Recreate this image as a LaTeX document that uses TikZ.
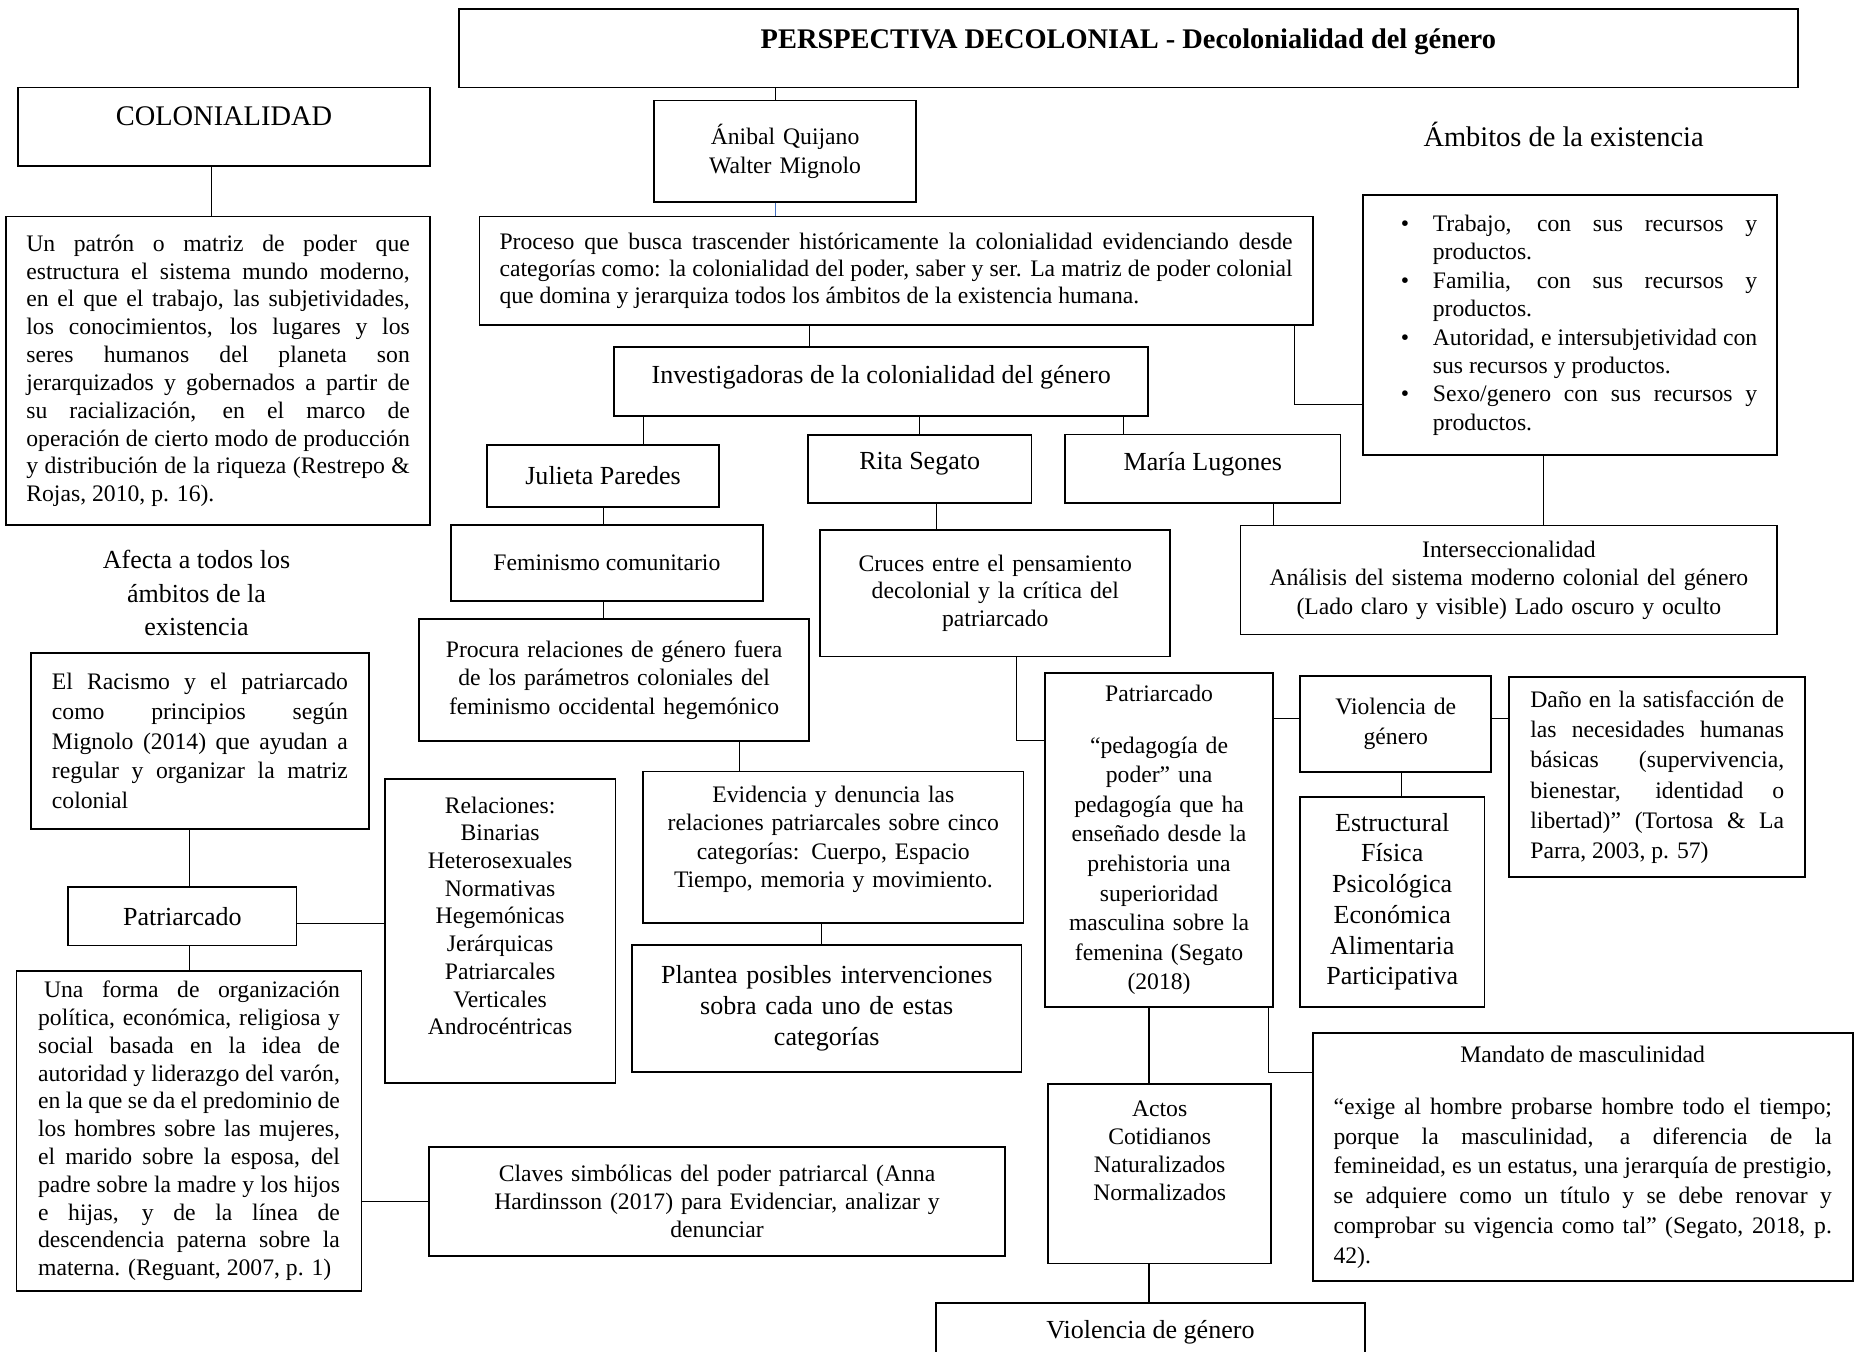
\documentclass[tikz,border=0pt]{standalone}
\usepackage{fontspec}
\setmainfont{Liberation Serif}
\usepackage{tikz}
\usetikzlibrary{positioning,calc}
\definecolor{linkblue}{RGB}{68,114,196}
\newcommand{\ambitem}{\leavevmode\llap{\textbullet\hspace{20pt}}}

\begin{document}
\begin{tikzpicture}[x=1pt,y=-1pt,
    box/.style={draw, line width=1.5pt, inner sep=3pt, align=center, font=\fontsize{20}{23.5}\selectfont},
    jbox/.style={box, align=justify},
    bigtxt/.style={font=\fontsize{22}{26.5}\selectfont},
    headtxt/.style={font=\fontsize{24}{28}\selectfont},
    link/.style={line width=0.9pt}]
\useasboundingbox (0,0) rectangle (1568,1142);
% top row
\node[box, headtxt, minimum width=1131.5, minimum height=66.5, text depth=16pt] (title) at (953.25,40.75) {\textbf{PERSPECTIVA DECOLONIAL - Decolonialidad del género}};
\node[box, headtxt, minimum width=348.5, minimum height=66, text depth=18pt] (colonia) at (189.25,107) {COLONIALIDAD};
\node[jbox, minimum width=358.5, minimum height=260.5, text width=324] (colontxt) at (184.25,313.25) {Un patrón o matriz de poder que\linebreak estructura el sistema mundo moderno,\linebreak en el que el trabajo, las subjetividades,\linebreak los conocimientos, los lugares y los\linebreak seres humanos del planeta son\linebreak jerarquizados y gobernados a partir de\linebreak su racialización, en el marco de\linebreak operación de cierto modo de producción\linebreak y distribución de la riqueza (Restrepo \&\linebreak Rojas, 2010, p. 16).};
\node[box, font=\fontsize{20}{24}\selectfont, minimum width=221.5, minimum height=85.5, text width=200] (anibal) at (663.25,127.75) {Ánibal Quijano\\Walter Mignolo};
\node[jbox, font=\fontsize{20}{23}\selectfont, minimum width=704, minimum height=91.6, text width=670] (proceso) at (757,228.8) {Proceso que busca trascender históricamente la colonialidad evidenciando desde\linebreak categorías como: la colonialidad del poder, saber y ser. La matriz de poder colonial\linebreak que domina y jerarquiza todos los ámbitos de la existencia humana.};
\node[headtxt] (ambtitle) at (1321,114) {Ámbitos de la existencia};
\node[jbox, font=\fontsize{20}{24}\selectfont, minimum width=350, minimum height=219.5, text width=316] (ambitos) at (1326.5,274.75) {\leftskip=42pt
  \ambitem Trabajo, con sus recursos y\linebreak productos.\par
  \ambitem Familia, con sus recursos y\linebreak productos.\par
  \ambitem Autoridad, e intersubjetividad con\linebreak sus recursos y productos.\par
  \ambitem Sexo/genero con sus recursos y\linebreak productos.\par};
% researchers
\node[box, bigtxt, minimum width=451, minimum height=58.5, text depth=11pt] (investig) at (744.5,322.25) {Investigadoras de la colonialidad del género};
\node[box, bigtxt, minimum width=196, minimum height=52.8] (julieta) at (509.5,402.1) {Julieta Paredes};
\node[box, bigtxt, minimum width=189, minimum height=57.5, text depth=13pt] (rita) at (777,396.25) {Rita Segato};
\node[box, bigtxt, minimum width=232.5, minimum height=58, text depth=13pt] (maria) at (1016.25,396) {María Lugones};
\node[box, minimum width=263.4, minimum height=64.2] (feminismo) at (512.7,475.7) {Feminismo comunitario};
\node[box, minimum width=295.7, minimum height=107, text width=285] (cruces) at (840.85,501.1) {Cruces entre el pensamiento\\decolonial y la crítica del\\patriarcado};
\node[box, font=\fontsize{20}{24}\selectfont, minimum width=453.5, minimum height=92, text width=440] (intersec) at (1274.75,490) {Interseccionalidad\\Análisis del sistema moderno colonial del género\\(Lado claro y visible) Lado oscuro y oculto};
% left column
\node[align=center, font=\fontsize{22}{28}\selectfont] (afecta) at (166,501) {Afecta a todos los\\ámbitos de la\\existencia};
\node[jbox, font=\fontsize{20}{25.2}\selectfont, minimum width=285.2, minimum height=148.7, text width=250] (racismo) at (168.9,626) {El Racismo y el patriarcado\linebreak como principios según\linebreak Mignolo (2014) que ayudan a\linebreak regular y organizar la matriz\linebreak colonial};
\node[box, bigtxt, minimum width=192.8, minimum height=49.5] (patleft) at (154.1,774.05) {Patriarcado};
\node[jbox, minimum width=291.4, minimum height=270.4, text width=255] (unaforma) at (159.7,955.4) {\hspace{5pt}Una forma de organización\linebreak política, económica, religiosa y\linebreak social basada en la idea de\linebreak autoridad y liderazgo del varón,\linebreak en la que se da el predominio de\linebreak los hombres sobre las mujeres,\linebreak el marido sobre la esposa, del\linebreak padre sobre la madre y los hijos\linebreak e hijas, y de la línea de\linebreak descendencia paterna sobre la\linebreak materna. (Reguant, 2007, p. 1)};
\node[box, font=\fontsize{20}{23.4}\selectfont, minimum width=195, minimum height=256.4, text width=185, text depth=213pt] (relaciones) at (422.5,786.5) {Relaciones:\\Binarias\\Heterosexuales\\Normativas\\Hegemónicas\\Jerárquicas\\Patriarcales\\Verticales\\Androcéntricas};
\node[box, minimum width=486.5, minimum height=91.8, text width=470] (claves) at (605.75,1014.9) {Claves simbólicas del poder patriarcal (Anna\\Hardinsson (2017) para Evidenciar, analizar y\\denunciar};
% middle column
\node[box, font=\fontsize{20}{24}\selectfont, minimum width=329.6, minimum height=102.9, text width=320] (procura) at (518.8,574.55) {Procura relaciones de género fuera\\de los parámetros coloniales del\\feminismo occidental hegemónico};
\node[box, font=\fontsize{20}{23.7}\selectfont, minimum width=321.1, minimum height=128.2, text width=312, text depth=89pt] (evidencia) at (704.05,715.9) {Evidencia y denuncia las\\relaciones patriarcales sobre cinco\\categorías: Cuerpo, Espacio\\Tiempo, memoria y movimiento.};
\node[box, bigtxt, minimum width=328.9, minimum height=107.2, text width=320] (plantea) at (698.45,851.9) {Plantea posibles intervenciones\\sobra cada uno de estas\\categorías};
% right part
\node[box, font=\fontsize{20}{25}\selectfont, minimum width=192.4, minimum height=282.4, text width=184] (patbig) at (979.2,709.5) {Patriarcado\\[19pt]“pedagogía de\\poder” una\\pedagogía que ha\\enseñado desde la\\prehistoria una\\superioridad\\masculina sobre la\\femenina (Segato\\(2018)};
\node[box, font=\fontsize{20}{25}\selectfont, minimum width=161.4, minimum height=80.6, text width=150] (violsmall) at (1179.2,611.7) {Violencia de\\género};
\node[jbox, font=\fontsize{20}{25.4}\selectfont, minimum width=250, minimum height=168.8, text width=214.4] (dano) at (1400.1,656.6) {Daño en la satisfacción de\linebreak las necesidades humanas\linebreak básicas (supervivencia,\linebreak bienestar, identidad o\linebreak libertad)” (Tortosa \& La\linebreak Parra, 2003, p. 57)};
\node[box, font=\fontsize{22}{26}\selectfont, minimum width=155.4, minimum height=177.7, text width=150] (estructural) at (1176.2,761.85) {Estructural\\Física\\Psicológica\\Económica\\Alimentaria\\Participativa};
\node[jbox, font=\fontsize{20}{25.1}\selectfont, minimum width=456.2, minimum height=209.9, text width=421] (mandato) at (1337.1,977.45) {\centerline{Mandato de masculinidad}\par\vspace{19pt}“exige al hombre probarse hombre todo el tiempo;\linebreak porque la masculinidad, a diferencia de la\linebreak femineidad, es un estatus, una jerarquía de prestigio,\linebreak se adquiere como un título y se debe renovar y\linebreak comprobar su vigencia como tal” (Segato, 2018, p.\linebreak 42).};
\node[box, font=\fontsize{20}{23.8}\selectfont, minimum width=188.6, minimum height=151.9, text width=180, text depth=110pt] (actos) at (979.7,991.45) {Actos\\Cotidianos\\Naturalizados\\Normalizados};
\node[box, bigtxt, minimum width=361.9, minimum height=49.2] (violbottom) at (971.95,1125.4) {Violencia de género};
% connectors
\draw[link] (title.south -| 655,0) -- (anibal.north -| 655,0);
\draw[link, linkblue] (anibal.south -| 655,0) -- (proceso.north -| 655,0);
\draw[link] (colonia.south -| 178.5,0) -- (colontxt.north -| 178.5,0);
\draw[link] (proceso.south -| 683.5,0) -- (investig.north -| 683.5,0);
\draw[link] (proceso.south -| 1094,0) |- (ambitos.west |- 0,342);
\draw[link] (investig.south -| 543.5,0) -- (julieta.north -| 543.5,0);
\draw[link] (investig.south -| rita.north) -- (rita.north);
\draw[link] (investig.south -| 949,0) -- (maria.north -| 949,0);
\draw[link] (julieta.south) -- (feminismo.north -| julieta.south);
\draw[link] (rita.south -| 791.5,0) -- (cruces.north -| 791.5,0);
\draw[link] (maria.south -| 1075.5,0) -- (intersec.north -| 1075.5,0);
\draw[link] (ambitos.south -| 1304,0) -- (intersec.north -| 1304,0);
\draw[link] (feminismo.south -| 510,0) -- (procura.north -| 510,0);
\draw[link] (procura.south -| 624.8,0) -- (evidencia.north -| 624.8,0);
\draw[link] (evidencia.south -| 693.7,0) -- (plantea.north -| 693.7,0);
\draw[link] (cruces.south -| 858.6,0) |- (patbig.west |- 0,625.9);
\draw[link] (racismo.south -| 159.7,0) -- (patleft.north -| 159.7,0);
\draw[link] (patleft.south -| 159.7,0) -- (unaforma.north -| 159.7,0);
\draw[link] (patleft.east |- 0,780) -- (relaciones.west |- 0,780);
\draw[link] (unaforma.east |- claves.west) -- (claves.west);
\draw[link] (patbig.east |- 0,607) -- (violsmall.west |- 0,607);
\draw[link] (violsmall.east |- 0,607) -- (dano.west |- 0,607);
\draw[link] (violsmall.south -| 1183.8,0) -- (estructural.north -| 1183.8,0);
\draw[link] (patbig.south -| 970.7,0) -- (actos.north -| 970.7,0);
\draw[link] (patbig.south -| 1071.7,0) |- (mandato.west |- 0,906.3);
\draw[link] (actos.south -| 970.7,0) -- (violbottom.north -| 970.7,0);
\end{tikzpicture}
\end{document}
